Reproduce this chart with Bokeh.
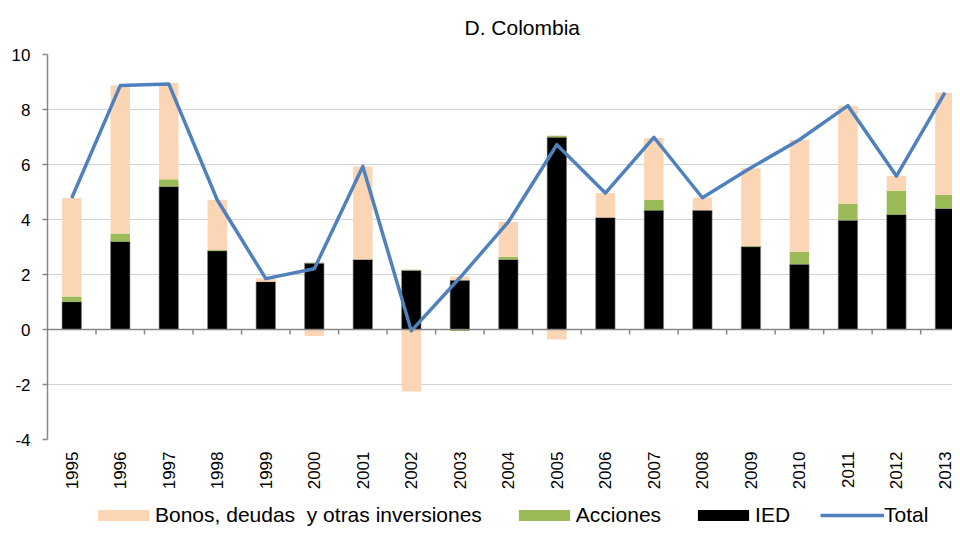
import numpy as np
from bokeh.plotting import figure
from bokeh.layouts import column
from bokeh.models import (ColumnDataSource, Range1d, FixedTicker, Span, Legend, LegendItem)
from bokeh.embed import file_html
from bokeh.resources import INLINE

years = [str(y) for y in range(1995, 2014)]
ied = [1.01, 3.20, 5.20, 2.86, 1.74, 2.41, 2.55, 2.15, 1.79, 2.55, 6.99, 4.07, 4.34, 4.34, 3.01, 2.37, 3.97, 4.18, 4.40]
acciones = [0.19, 0.29, 0.26, 0.03, 0.00, 0.02, 0.00, 0.02, -0.05, 0.10, 0.06, 0.00, 0.37, 0.00, 0.03, 0.46, 0.60, 0.86, 0.50]
bonos = [3.58, 5.38, 3.50, 1.82, 0.12, -0.24, 3.38, -2.25, 0.14, 1.26, -0.36, 0.89, 2.25, 0.46, 2.82, 4.07, 3.57, 0.54, 3.71]
total = [4.78, 8.87, 8.93, 4.71, 1.85, 2.21, 5.93, -0.05, 1.88, 3.91, 6.72, 4.96, 6.99, 4.79, 5.88, 6.90, 8.14, 5.58, 8.61]
y_ticks = [-4, -2, 0, 2, 4, 6, 8, 10]
legend_labels = ["Bonos, deudas  y otras inversiones", "Acciones", "IED", "Total"]

FONT = "Liberation Sans"
C_BON, C_ACC, C_IED, C_TOT = "#FCD5B5", "#9BBB59", "#000000", "#4F81BD"
x = np.arange(len(years))

pos_base = np.zeros(len(years))
neg_base = np.zeros(len(years))
stacks = {}
for name, vals in [("ied", ied), ("acc", acciones), ("bonos", bonos)]:
    v = np.array(vals, dtype=float)
    bottom = np.where(v >= 0, pos_base, neg_base)
    top = bottom + v
    pos_base = np.where(v >= 0, top, pos_base)
    neg_base = np.where(v < 0, top, neg_base)
    stacks[name] = ColumnDataSource(dict(x=x, bottom=bottom, top=top))

MAIN_H, LEG_H = 495, 32
LEFT = 47
p = figure(width=952, height=MAIN_H, output_backend="svg", toolbar_location=None,
           x_range=Range1d(-0.5, 18.156), y_range=Range1d(-4, 10),
           min_border_left=LEFT, min_border_right=0, min_border_top=54,
           min_border_bottom=MAIN_H - 439)
p.outline_line_color = None

p.title.text = "D. Colombia"
p.title.align = "left"
p.title.offset = 417
p.title.vertical_align = "top"
p.title.text_font = FONT
p.title.text_font_size = "21px"
p.title.text_font_style = "normal"
p.title.text_color = "#000000"
p.title.standoff = 28

W = 0.4
p.vbar(x="x", bottom="bottom", top="top", width=W, source=stacks["ied"],
       fill_color=C_IED, line_color="#808080", line_width=0.6)
p.vbar(x="x", bottom="bottom", top="top", width=W, source=stacks["acc"],
       fill_color=C_ACC, line_color=None)
p.vbar(x="x", bottom="bottom", top="top", width=W, source=stacks["bonos"],
       fill_color=C_BON, line_color=None)

p.add_layout(Span(location=0, dimension="width", line_color="#868686", line_width=1.5))
bounds = np.arange(len(years)) + 0.5
tick_len = 5 * (10 - (-4)) / 385.0
p.segment(x0=bounds, y0=np.zeros(len(bounds)), x1=bounds, y1=-tick_len * np.ones(len(bounds)),
          line_color="#868686", line_width=1.5)

p.line(x, total, line_color=C_TOT, line_width=3.5, line_join="round")

p.xaxis.ticker = FixedTicker(ticks=list(range(len(years))), minor_ticks=[])
p.xaxis.major_label_overrides = {i: years[i] for i in range(len(years))}
p.xaxis.axis_line_color = None
p.xaxis.major_tick_line_color = None
p.xaxis.minor_tick_line_color = None
p.xaxis.major_tick_out = 0
p.xaxis.major_label_standoff = 12
p.xaxis.major_label_orientation = np.pi / 2
p.xaxis.major_label_text_font = FONT
p.xaxis.major_label_text_font_size = "17px"
p.xaxis.major_label_text_color = "#000000"

p.yaxis.ticker = FixedTicker(ticks=y_ticks, minor_ticks=[])
p.yaxis.major_label_overrides = {t: str(t) for t in y_ticks}
p.yaxis.axis_line_color = "#868686"
p.yaxis.axis_line_width = 1.5
p.yaxis.major_tick_line_color = "#868686"
p.yaxis.major_tick_line_width = 1.5
p.yaxis.major_tick_out = 5
p.yaxis.major_tick_in = 0
p.yaxis.minor_tick_line_color = None
p.yaxis.major_label_standoff = 12
p.yaxis.major_label_text_font = FONT
p.yaxis.major_label_text_font_size = "17px"
p.yaxis.major_label_text_color = "#000000"

p.xgrid.visible = False
p.ygrid.ticker = FixedTicker(ticks=y_ticks, minor_ticks=[])
p.ygrid.grid_line_color = "#a6a6a6"
p.ygrid.grid_line_dash = "1 1"
p.ygrid.grid_line_width = 1

# legend strip (separate figure below the chart); swatch renderers are
# zero-size placeholders that only provide the legend styles
lf = figure(width=952, height=LEG_H, output_backend="svg", toolbar_location=None,
            x_axis_type=None, y_axis_type=None,
            x_range=Range1d(0, 1), y_range=Range1d(0, 1),
            min_border_left=LEFT, min_border_right=0, min_border_top=0, min_border_bottom=0)
lf.outline_line_color = None
lf.xgrid.visible = False
lf.ygrid.visible = False
g_bon = lf.vbar(x=[0.5], bottom=[0], top=[0], width=0, fill_color=C_BON, line_color=None)
g_acc = lf.vbar(x=[0.5], bottom=[0], top=[0], width=0, fill_color=C_ACC, line_color=None)
g_ied = lf.vbar(x=[0.5], bottom=[0], top=[0], width=0, fill_color=C_IED, line_color=None)
g_tot = lf.line(x=[0.5], y=[0.5], line_color=C_TOT, line_width=3.5)

legend = Legend(items=[LegendItem(label=lab, renderers=[r])
                       for lab, r in zip(legend_labels, [g_bon, g_acc, g_ied, g_tot])],
                orientation="horizontal", location=(44, 0))
legend.glyph_width = 64
legend.glyph_height = 14
legend.label_height = 20
legend.label_standoff = 0
legend.spacing = 30
legend.padding = 0
legend.margin = 0
legend.border_line_color = None
legend.background_fill_alpha = 0
legend.label_text_font = FONT
legend.label_text_font_size = "21px"
legend.label_text_color = "#000000"
lf.add_layout(legend, "center")

layout = column(p, lf, spacing=0)
open("out.html", "w").write(file_html(layout, INLINE))
